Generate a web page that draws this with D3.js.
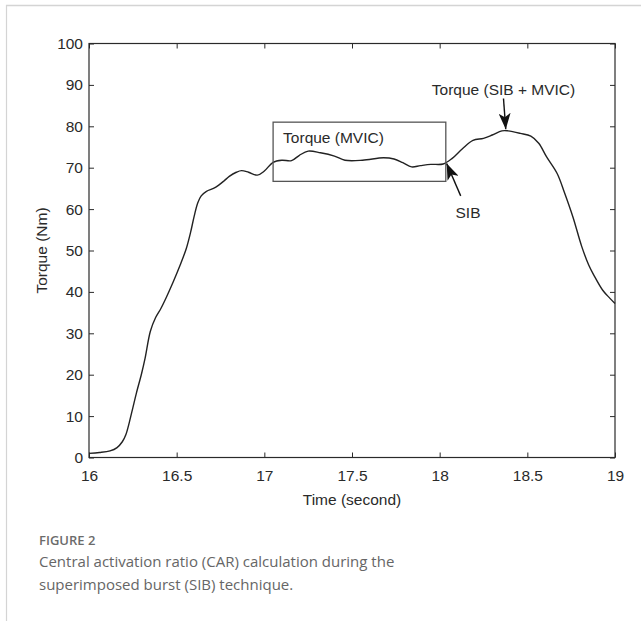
<!DOCTYPE html>
<html><head><meta charset="utf-8">
<script src="https://cdn.jsdelivr.net/npm/d3@7"></script>
<style>body{margin:0;background:#fff}</style>
</head><body>
<svg id="c" width="641" height="621" xmlns="http://www.w3.org/2000/svg"></svg>
<script>
// ---- data ----
const time = [16.0,16.06,16.12,16.16,16.19,16.21,16.23,16.25,16.27,16.30,16.32,16.35,16.38,16.41,16.44,16.48,16.52,16.555,16.58,16.60,16.62,16.64,16.67,16.71,16.74,16.77,16.80,16.84,16.87,16.91,16.96,17.0,17.05,17.10,17.155,17.2,17.25,17.32,17.40,17.46,17.56,17.68,17.74,17.79,17.84,17.89,17.95,18.02,18.07,18.13,18.19,18.25,18.30,18.355,18.39,18.46,18.52,18.565,18.61,18.67,18.71,18.76,18.81,18.85,18.88,18.93,18.97,19.0];
const torque = [1.0,1.2,1.6,2.4,3.8,5.5,8.5,12,15.5,20.3,24,30.5,33.8,36,38.6,42.4,46.5,50.5,54.5,58.3,61.5,63.2,64.3,65.0,65.8,66.8,67.9,68.9,69.3,68.9,68.2,69.2,71.3,71.8,71.7,73.0,74.0,73.6,72.8,71.8,71.8,72.4,72.1,71.2,70.2,70.5,70.8,70.9,72.2,74.6,76.6,77.1,77.9,78.9,78.9,78.3,77.6,75.9,72.6,68.6,64.2,58.1,51,46.5,44,40.4,38.5,37.2];
const xTicks = [16,16.5,17,17.5,18,18.5,19];
const xTickLabels = ["16","16.5","17","17.5","18","18.5","19"];
const yTicks = [0,10,20,30,40,50,60,70,80,90,100];
const yTickLabels = ["0","10","20","30","40","50","60","70","80","90","100"];
const xTitle = "Time (second)";
const yTitle = "Torque (Nm)";
// annotation box (time range, torque range) and its label
const boxTime = [17.05, 18.035];
const boxTorque = [66.7, 81.0];
const boxLabel = "Torque (MVIC)";
// arrows: [tailTime, tailTorque, tipTime, tipTorque]
const arrowPeak = [18.364, 86.7, 18.377, 79.3];
const arrowSIB = [18.12, 63.2, 18.04, 71.0];
const peakLabel = "Torque (SIB + MVIC)";
const sibLabel = "SIB";
const captionTitle = "FIGURE 2";
const captionLines = ["Central activation ratio (CAR) calculation during the","superimposed burst (SIB) technique."];

// ---- drawing ----
const svg = d3.select("#c");
svg.append("rect").attr("width",641).attr("height",621).attr("fill","#fff");
// page frame
svg.append("line").attr("x1",6).attr("x2",641).attr("y1",5.5).attr("y2",5.5).attr("stroke","#d4d4d4").attr("stroke-width",1.5);
svg.append("line").attr("x1",6.5).attr("x2",6.5).attr("y1",5).attr("y2",621).attr("stroke","#d4d4d4").attr("stroke-width",1.2);

const L=89, R=615, T=43.5, B=457.5;
const x = d3.scaleLinear().domain([16,19]).range([L,R]);
const y = d3.scaleLinear().domain([0,100]).range([B,T]);
const font = "'Liberation Sans', Arial, sans-serif";
const fs = "15.5px";
const ink = "#2a2a2a";

function styleAxis(g){
  g.select(".domain").remove();
  g.selectAll(".tick line").attr("stroke",ink).attr("stroke-width",1);
  g.selectAll("text").attr("font-family",font).attr("font-size",fs).attr("fill",ink);
}
svg.append("g").attr("transform",`translate(0,${B})`)
  .call(d3.axisBottom(x).tickValues(xTicks).tickFormat((d,i)=>xTickLabels[i]).tickSizeInner(-5).tickSizeOuter(0).tickPadding(12.5))
  .call(styleAxis);
svg.append("g").attr("transform",`translate(0,${T})`)
  .call(d3.axisTop(x).tickValues(xTicks).tickFormat("").tickSizeInner(-5).tickSizeOuter(0))
  .call(styleAxis);
svg.append("g").attr("transform",`translate(${L},0)`)
  .call(d3.axisLeft(y).tickValues(yTicks).tickFormat((d,i)=>yTickLabels[i]).tickSizeInner(-5).tickSizeOuter(0).tickPadding(6))
  .call(styleAxis);
svg.append("g").attr("transform",`translate(${R},0)`)
  .call(d3.axisRight(y).tickValues(yTicks).tickFormat("").tickSizeInner(-5).tickSizeOuter(0))
  .call(styleAxis);
svg.append("rect").attr("x",L).attr("y",T).attr("width",R-L).attr("height",B-T)
  .attr("fill","none").attr("stroke",ink).attr("stroke-width",1.2);

// titles
svg.append("text").attr("x",(L+R)/2).attr("y",505).attr("text-anchor","middle")
  .attr("font-family",font).attr("font-size",fs).attr("fill",ink).text(xTitle);
svg.append("text").attr("transform",`translate(47,${(T+B)/2}) rotate(-90)`).attr("text-anchor","middle")
  .attr("font-family",font).attr("font-size",fs).attr("fill",ink).text(yTitle);

// curve
const pts = time.map((t,i)=>[t,torque[i]]);
svg.append("path").datum(pts)
  .attr("d", d3.line().x(d=>x(d[0])).y(d=>y(d[1])).curve(d3.curveCatmullRom.alpha(0.5)))
  .attr("fill","none").attr("stroke","#222").attr("stroke-width",1.4);

// annotation box
svg.append("rect").attr("x",x(boxTime[0])).attr("y",y(boxTorque[1]))
  .attr("width",x(boxTime[1])-x(boxTime[0])).attr("height",y(boxTorque[0])-y(boxTorque[1]))
  .attr("fill","none").attr("stroke","#555").attr("stroke-width",1.3);
svg.append("text").attr("x",x(boxTime[0])+10).attr("y",y(boxTorque[1])+21)
  .attr("font-family",font).attr("font-size",fs).attr("fill",ink).text(boxLabel);

// arrows
const defs = svg.append("defs");
defs.append("marker").attr("id","ah").attr("viewBox","0 0 16 12").attr("refX",16).attr("refY",6)
  .attr("markerWidth",16).attr("markerHeight",12).attr("markerUnits","userSpaceOnUse").attr("orient","auto")
  .append("path").attr("d","M0,0 L16,6 L0,12 L4,6 Z").attr("fill","#111");
[arrowPeak, arrowSIB].forEach(a=>{
  svg.append("line").attr("x1",x(a[0])).attr("y1",y(a[1])).attr("x2",x(a[2])).attr("y2",y(a[3]))
    .attr("stroke","#111").attr("stroke-width",1.4).attr("marker-end","url(#ah)");
});
svg.append("text").attr("x",x(arrowPeak[0])).attr("y",94.5).attr("text-anchor","middle")
  .attr("font-family",font).attr("font-size",fs).attr("fill",ink).text(peakLabel);
svg.append("text").attr("x",468).attr("y",217.5).attr("text-anchor","middle")
  .attr("font-family",font).attr("font-size",fs).attr("fill",ink).text(sibLabel);

// caption
svg.append("text").attr("x",39).attr("y",545).attr("font-family","'Open Sans', sans-serif")
  .attr("font-size","13px").attr("font-weight",600).attr("fill","#6b6b6b").text(captionTitle);
captionLines.forEach((s,i)=>{
  svg.append("text").attr("x",39).attr("y",567+i*22.5).attr("font-family","'Open Sans', sans-serif")
    .attr("font-size","15px").attr("fill","#666").text(s);
});
</script>
</body></html>
